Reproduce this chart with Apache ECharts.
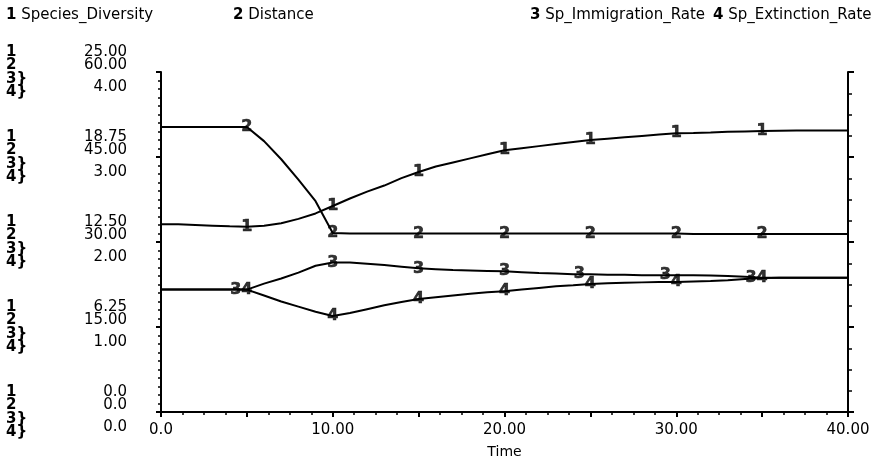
<!DOCTYPE html>
<html>
<head>
<meta charset="utf-8">
<script src="https://cdn.jsdelivr.net/npm/echarts@6/dist/echarts.min.js"></script>
<style>
  html, body { margin: 0; padding: 0; background: #fff; }
  #chart { width: 877px; height: 466px; }
</style>
</head>
<body>
<div id="chart"></div>
<script>
// time steps
const time = [0, 1, 2, 3, 4, 5, 6, 7, 8, 9, 10, 11, 12, 13, 14, 15, 16, 17, 18, 19, 20,
  21, 22, 23, 24, 25, 26, 27, 28, 29, 30, 31, 32, 33, 34, 35, 36, 37, 38, 39, 40]

const speciesDiversity = [13.8, 13.8, 13.75, 13.7, 13.65, 13.62, 13.7, 13.88, 14.2, 14.6, 15.15,
  15.7, 16.2, 16.65, 17.2, 17.65, 18.05, 18.35, 18.65, 18.95, 19.25,
  19.4, 19.55, 19.7, 19.85, 20.0, 20.1, 20.2, 20.3, 20.4, 20.5,
  20.52, 20.55, 20.6, 20.63, 20.66, 20.68, 20.7, 20.7, 20.7, 20.7]

const distance = [50.3, 50.3, 50.3, 50.3, 50.3, 50.3, 47.8, 44.6, 41.0, 37.2, 31.6,
  31.5, 31.5, 31.5, 31.5, 31.5, 31.5, 31.5, 31.5, 31.5, 31.5,
  31.5, 31.5, 31.5, 31.5, 31.5, 31.5, 31.5, 31.5, 31.5, 31.5,
  31.4, 31.4, 31.4, 31.4, 31.4, 31.4, 31.4, 31.4, 31.4, 31.4]

const immigrationRate = [1.44, 1.44, 1.44, 1.44, 1.44, 1.44, 1.51, 1.57, 1.64, 1.72, 1.76,
  1.76, 1.745, 1.73, 1.71, 1.69, 1.68, 1.67, 1.665, 1.66, 1.655,
  1.645, 1.635, 1.63, 1.62, 1.62, 1.615, 1.615, 1.61, 1.61, 1.61,
  1.61, 1.605, 1.6, 1.59, 1.58, 1.578, 1.578, 1.578, 1.578, 1.578]

const extinctionRate = [1.44, 1.44, 1.44, 1.44, 1.44, 1.44, 1.37, 1.30, 1.24, 1.18, 1.13,
  1.165, 1.21, 1.255, 1.295, 1.33, 1.35, 1.37, 1.39, 1.41, 1.42,
  1.44, 1.46, 1.48, 1.49, 1.505, 1.515, 1.52, 1.525, 1.53, 1.53,
  1.535, 1.54, 1.55, 1.565, 1.575, 1.578, 1.578, 1.578, 1.578, 1.578]

const seriesNames = ['Species_Diversity', 'Distance', 'Sp_Immigration_Rate', 'Sp_Extinction_Rate']
const markerTimes = [5, 10, 15, 20, 25, 30, 35]
const xTicks = [0, 10, 20, 30, 40]

const chart = echarts.init(document.getElementById('chart'))

const FONT = 'DejaVu Sans'
const ink = '#000'

function fmt (v) {
  return v === 0 ? '0.0' : v.toFixed(2)
}

const allValues = [speciesDiversity, distance, immigrationRate, extinctionRate]
const axisOf = i => (i < 2 ? i : 2)

const lineSeries = allValues.map((vals, i) => ({
  name: seriesNames[i],
  type: 'line',
  yAxisIndex: axisOf(i),
  data: time.map((t, k) => [t, vals[k]]),
  symbol: 'none',
  lineStyle: { color: ink, width: 2 },
  itemStyle: { color: ink },
  z: 2
}))

// number markers sitting on each curve every 5 time units
const markerSeries = allValues.map((vals, i) => ({
  name: seriesNames[i],
  type: 'scatter',
  yAxisIndex: axisOf(i),
  symbolSize: 0,
  itemStyle: { color: ink },
  data: markerTimes.map(t => [t, vals[time.indexOf(t)]]),
  label: {
    show: true,
    position: 'inside',
    formatter: String(i + 1),
    color: ink,
    fontFamily: FONT,
    fontWeight: 'bold',
    fontSize: 16,
    textBorderColor: ink,
    textBorderWidth: 0.6
  },
  labelLayout: p => {
    const t = markerTimes[p.dataIndex]
    if (i === 2 && (t === 5 || t >= 25)) return { dx: -11 }
    return {}
  },
  z: 4
}))

const legendLeft = [1, 228, 525, 708]
const legends = seriesNames.map((n, i) => ({
  data: [n],
  left: legendLeft[i],
  top: 8,
  padding: 0,
  icon: 'none',
  itemWidth: 0,
  itemGap: 0,
  selectedMode: false,
  formatter: name => '{b|' + (i + 1) + '} ' + name,
  textStyle: {
    color: ink,
    fontFamily: FONT,
    fontSize: 15,
    rich: { b: { fontWeight: 'bold', fontSize: 15, fontFamily: FONT, color: ink } }
  }
}))

// label stacked above/below its tick: up = first of two lines, down = second line
const valueLabel = (dir, lh) => ({
  show: true,
  margin: 34,
  color: ink,
  fontFamily: FONT,
  fontSize: 15,
  align: 'right',
  verticalAlign: 'middle',
  lineHeight: lh,
  formatter: v => (dir === 'up' ? fmt(v) + '\n ' : ' \n' + fmt(v))
})

const option = {
  animation: false,
  backgroundColor: '#fff',
  legend: legends,
  grid: { left: 161, right: 29, top: 72, bottom: 54, containLabel: false },
  xAxis: {
    type: 'value',
    min: 0,
    max: 40,
    interval: 5,
    name: 'Time',
    nameLocation: 'middle',
    nameGap: 33,
    nameTextStyle: { color: ink, fontFamily: FONT, fontSize: 14 },
    axisLine: { show: true, lineStyle: { color: ink, width: 2 } },
    axisTick: { show: true, length: 5, lineStyle: { color: ink, width: 2 } },
    minorTick: { show: true, splitNumber: 4, length: 3, lineStyle: { color: ink, width: 1.5 } },
    splitLine: { show: false },
    axisLabel: {
      color: ink,
      fontFamily: FONT,
      fontSize: 15,
      margin: 11,
      formatter: v => (xTicks.includes(v) ? fmt(v) : '')
    }
  },
  yAxis: [
    {
      type: 'value', position: 'left', min: 0, max: 25, interval: 6.25,
      axisLine: { show: true, lineStyle: { color: ink, width: 2 } },
      axisTick: { show: true, length: 5, lineStyle: { color: ink, width: 2 } },
      minorTick: { show: true, splitNumber: 10, length: 3, lineStyle: { color: ink, width: 1.5 } },
      splitLine: { show: false },
      axisLabel: valueLabel('up', 40)
    },
    {
      type: 'value', position: 'left', min: 0, max: 60, interval: 15,
      axisLine: { show: false }, axisTick: { show: false }, splitLine: { show: false },
      axisLabel: valueLabel('up', 14)
    },
    {
      type: 'value', position: 'left', min: 0, max: 4, interval: 1,
      axisLine: { show: false }, axisTick: { show: false }, splitLine: { show: false },
      axisLabel: valueLabel('down', 30)
    },
    {
      // series number column on the far left
      type: 'value', position: 'left', min: 0, max: 4, interval: 1,
      axisLine: { show: false }, axisTick: { show: false }, splitLine: { show: false },
      axisLabel: {
        show: true,
        margin: 155,
        align: 'left',
        verticalAlign: 'middle',
        lineHeight: 13.5,
        color: ink,
        fontFamily: FONT,
        fontWeight: 'bold',
        fontSize: 15,
        formatter: () => '1\n2\n3}\n4}'
      }
    },
    {
      type: 'value', position: 'right', min: 0, max: 4, interval: 1,
      axisLine: { show: true, lineStyle: { color: ink, width: 2 } },
      axisTick: { show: true, length: 6, lineStyle: { color: ink, width: 2 } },
      minorTick: { show: true, splitNumber: 4, length: 4, lineStyle: { color: ink, width: 1.5 } },
      splitLine: { show: false },
      axisLabel: { show: false }
    }
  ],
  series: lineSeries.concat(markerSeries)
}

chart.setOption(option)
</script>
</body>
</html>
